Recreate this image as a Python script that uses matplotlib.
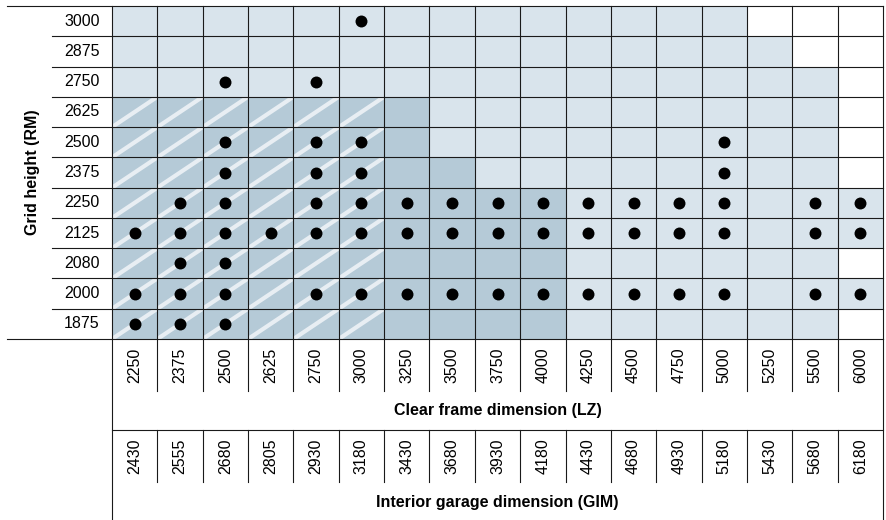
import numpy as np
import matplotlib
matplotlib.use("Agg")
import matplotlib.pyplot as plt
from matplotlib.colors import ListedColormap
from matplotlib.patches import Rectangle

plt.rcParams['font.family'] = ['Liberation Sans', 'DejaVu Sans']

# ---- data ----
clear_frame = [2250, 2375, 2500, 2625, 2750, 3000, 3250, 3500, 3750, 4000,
               4250, 4500, 4750, 5000, 5250, 5500, 6000]
interior_garage = [2430, 2555, 2680, 2805, 2930, 3180, 3430, 3680, 3930, 4180,
                   4430, 4680, 4930, 5180, 5430, 5680, 6180]
grid_heights = [1875, 2000, 2080, 2125, 2250, 2375, 2500, 2625, 2750, 2875, 3000]

# zone code per cell: H = hatched dark, D = dark, L = light, W = white
zones = {
    3000: "LLLLLLLLLLLLLLWWW",
    2875: "LLLLLLLLLLLLLLLWW",
    2750: "LLLLLLLLLLLLLLLLW",
    2625: "HHHHHHDLLLLLLLLLW",
    2500: "HHHHHHDLLLLLLLLLW",
    2375: "HHHHHHDDLLLLLLLLW",
    2250: "HHHHHHDDDDLLLLLLL",
    2125: "HHHHHHDDDDLLLLLLL",
    2080: "HHHHHHDDDDLLLLLLW",
    2000: "HHHHHHDDDDLLLLLLL",
    1875: "HHHHHHDDDDLLLLLLW",
}

available = {
    3000: [3000],
    2875: [],
    2750: [2500, 2750],
    2625: [],
    2500: [2500, 2750, 3000, 5000],
    2375: [2500, 2750, 3000, 5000],
    2250: [2375, 2500, 2750, 3000, 3250, 3500, 3750, 4000, 4250, 4500, 4750, 5000, 5500, 6000],
    2125: [2250, 2375, 2500, 2625, 2750, 3000, 3250, 3500, 3750, 4000, 4250, 4500, 4750, 5000, 5500, 6000],
    2080: [2375, 2500],
    2000: [2250, 2375, 2500, 2750, 3000, 3250, 3500, 3750, 4000, 4250, 4500, 4750, 5000, 5500, 6000],
    1875: [2250, 2375, 2500],
}

x_title = "Clear frame dimension (LZ)"
x2_title = "Interior garage dimension (GIM)"
y_title = "Grid height (RM)"

# ---- style ----
zone_order = "WLDH"
zone_colors = ["#ffffff", "#d9e4ec", "#b5cad7", "#b5cad7"]
stripe_color = "#e8eef3"
line_color = "#1a1a1a"
lw = 0.8
fs = 11.5

W, H = 886, 520
fig = plt.figure(figsize=(W / 100, H / 100), dpi=100)
gx0, gx1, gy0, gy1 = 112, 883, 6, 339  # grid box in pixels
ax = fig.add_axes([gx0 / W, 1 - gy1 / H, (gx1 - gx0) / W, (gy1 - gy0) / H])
ncol, nrow = len(clear_frame), len(grid_heights)
ax.set_xlim(0, ncol)
ax.set_ylim(0, nrow)
ax.axis("off")

cw = (gx1 - gx0) / ncol   # px per column
rh = (gy1 - gy0) / nrow   # px per row
def py(p):  # pixel y (below grid) -> data y
    return -(p - gy1) / rh
def px(p):  # pixel x -> data x
    return (p - gx0) / cw

# cells
Z = np.array([[zone_order.index(c) for c in zones[h]] for h in grid_heights])
ax.pcolormesh(np.arange(ncol + 1), np.arange(nrow + 1), Z,
              cmap=ListedColormap(zone_colors), vmin=-0.5, vmax=3.5, shading="flat")

# stripes in hatched cells
for j, h in enumerate(grid_heights):
    for i, c in enumerate(zones[h]):
        if c == "H":
            clip = Rectangle((i, j), 1, 1, transform=ax.transData)
            ln, = ax.plot([i, i + 1], [j, j + 1], color=stripe_color, lw=3.0,
                          solid_capstyle="butt", zorder=2)
            ln.set_clip_path(clip)

# grid lines
kw = dict(color=line_color, lw=lw, clip_on=False, zorder=3)
for j in range(nrow + 1):
    left = px(7) if j in (0, nrow) else px(52)
    ax.plot([left, ncol], [j, j], **kw)
for i in range(ncol + 1):
    ax.plot([i, i], [0, nrow], **kw)

# bottom header bands
for i in range(1, ncol):
    ax.plot([i, i], [0, py(391)], **kw)
    ax.plot([i, i], [py(430), py(482)], **kw)
for i in (0, ncol):
    ax.plot([i, i], [0, py(H)], **kw)
ax.plot([0, ncol], [py(430), py(430)], **kw)

# dots
for j, h in enumerate(grid_heights):
    xs = [clear_frame.index(v) + 0.5 for v in available[h]]
    ax.plot(xs, [j + 0.5] * len(xs), "o", color="black", ms=8.6, mec="none", zorder=4)

# labels
for j, h in enumerate(grid_heights):
    ax.text(px(82), j + 0.5, str(h), ha="center", va="center", fontsize=fs, clip_on=False)
for i, v in enumerate(clear_frame):
    ax.text(i + 0.5, py(365), str(v), ha="center", va="center", rotation=90, fontsize=fs)
for i, v in enumerate(interior_garage):
    ax.text(i + 0.5, py(456), str(v), ha="center", va="center", rotation=90, fontsize=fs)
ax.text(ncol / 2, py(411), x_title, ha="center", va="center", fontsize=fs, fontweight="bold")
ax.text(ncol / 2, py(503), x2_title, ha="center", va="center", fontsize=fs, fontweight="bold")
ax.text(px(32), nrow / 2, y_title, ha="center", va="center", rotation=90, fontsize=fs,
        fontweight="bold")

fig.savefig("out.png", dpi=100)
